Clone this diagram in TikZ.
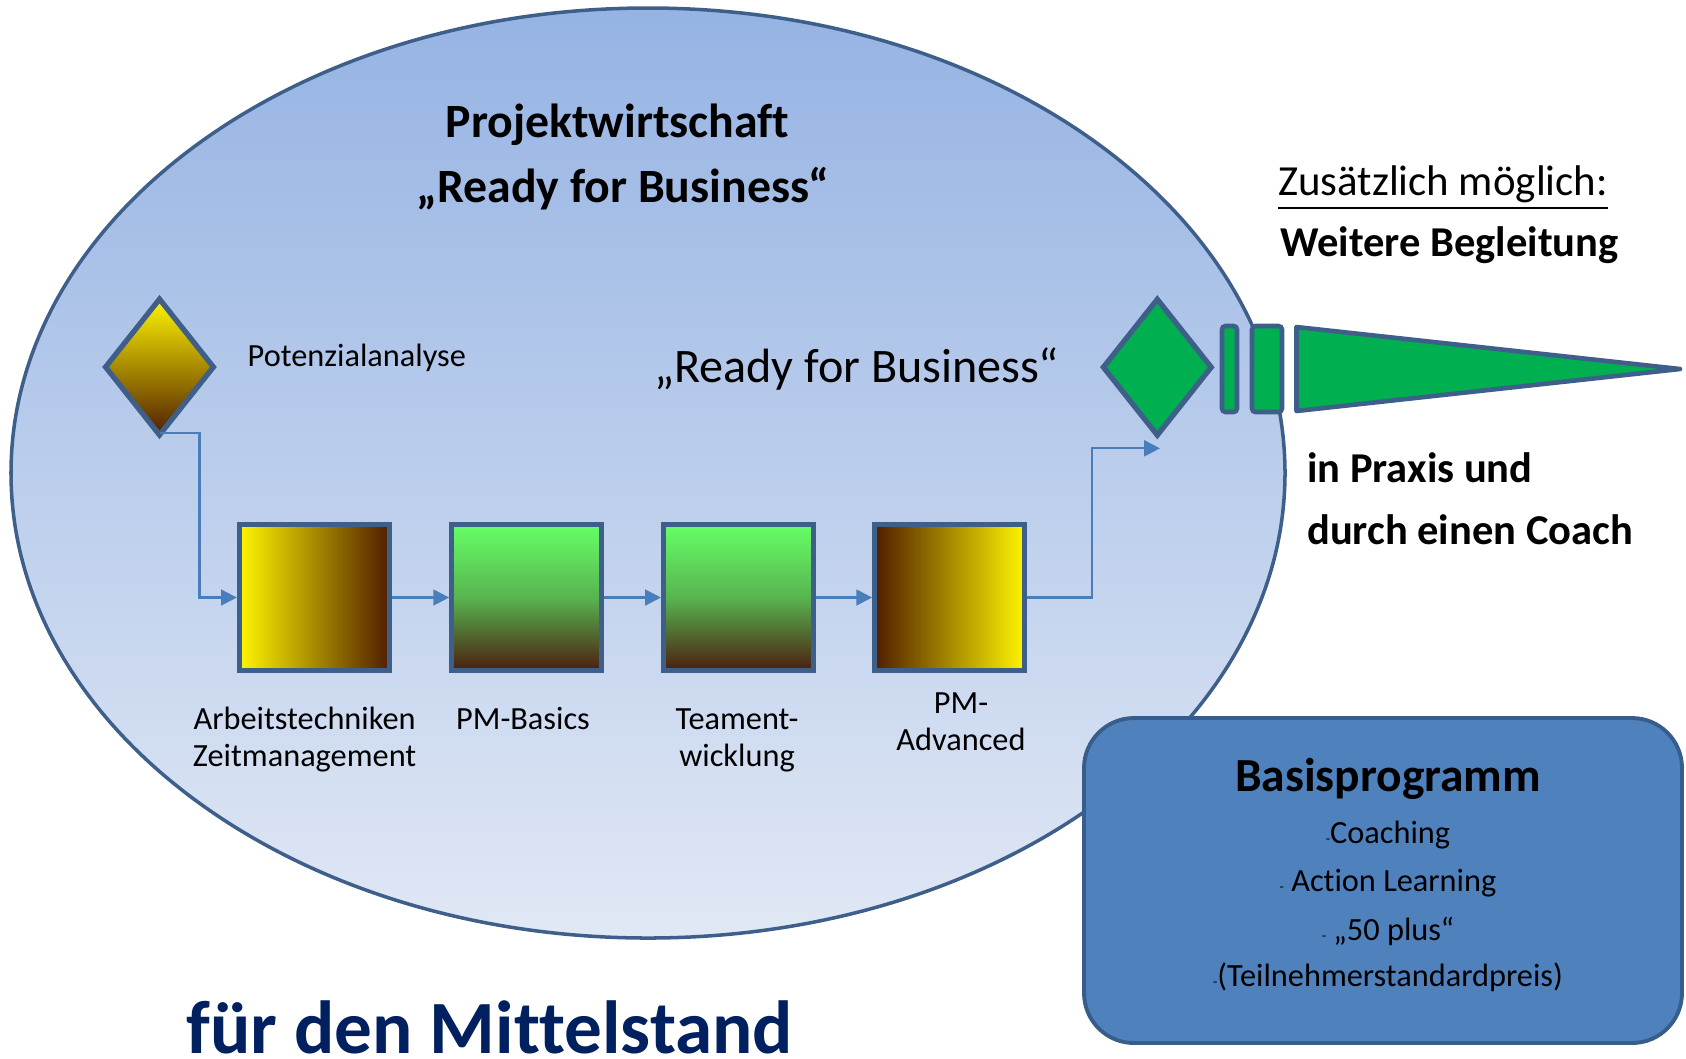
\documentclass[tikz,border=0pt]{standalone}
\usepackage{fontspec}
\setmainfont{Carlito}[Ligatures={TeX,NoCommon}]
\usetikzlibrary{shapes.geometric,arrows.meta}

\definecolor{rand}{RGB}{61,95,138}
\definecolor{pfeilblau}{RGB}{74,126,187}
\definecolor{ellipseoben}{RGB}{149,179,227}
\definecolor{ellipseunten}{RGB}{225,232,245}
\definecolor{gelb}{RGB}{255,245,0}
\definecolor{braun}{RGB}{80,30,0}
\definecolor{hellgruen}{RGB}{102,255,102}
\definecolor{mittelgruen}{RGB}{88,180,80}
\definecolor{gruenbraun}{RGB}{75,30,15}
\definecolor{vollgruen}{RGB}{0,176,80}
\definecolor{basisblau}{RGB}{79,129,189}
\definecolor{basisrand}{RGB}{56,93,138}
\definecolor{mittelstand}{RGB}{0,32,96}

\begin{document}
\begin{tikzpicture}[
    baustein/.style={draw=rand, line width=1.5pt, minimum width=1.50cm, minimum height=1.46cm, inner sep=0pt},
    raute/.style={diamond, draw=rand, line width=1.5pt, minimum width=1.10cm, minimum height=1.38cm, inner sep=0pt},
    gruenform/.style={draw=rand, fill=vollgruen, line width=1.3pt},
    pfeil/.style={draw=pfeilblau, line width=0.6pt, -{Triangle[length=4.5pt,width=4.5pt]}},
    normal/.style={font=\fontsize{9.2}{10.7}\selectfont, inner sep=0pt},
    gross/.style={font=\fontsize{13.6}{16}\selectfont\bfseries, inner sep=0pt},
    seite/.style={font=\fontsize{12.1}{14}\selectfont\bfseries, anchor=base west, inner sep=0pt}
  ]
                    \useasboundingbox (0,0) rectangle (16.86,-10.58);

                    % Drawing ellipse Projektwirtschaft
                    \shade [top color=ellipseoben, bottom color=ellipseunten, draw=rand, line width=1pt] (6.48,-4.73) ellipse [x radius=6.37, y radius=4.65];%

                    % Marking title
                    \node [gross, anchor=base] (titel1) at (6.175,-1.37) {Projektwirtschaft};%
                    \node [gross, anchor=base] (titel2) at (6.230,-2.02) {„Ready for Business“};%

                    % Marking point Potenzialanalyse
                    \node [raute, shade, top color=gelb, bottom color=braun] (pot) at (1.595,-3.670) {};%
                    \node [normal, anchor=base west] (potlabel) at (2.470,-3.667) {Potenzialanalyse};%

                    % Marking point Ready for Business
                    \node [font=\fontsize{13.7}{16}\selectfont, anchor=base, inner sep=0pt] (ready) at (8.565,-3.820) {„Ready for Business“};%
                    \node [raute, fill=vollgruen] (ziel) at (11.573,-3.672) {};%
                    \coordinate (zielpunkt) at (11.600,-4.483);%

                    % Drawing bars and cone
                    \draw [gruenform, rounded corners=1pt] (12.220,-3.260) rectangle (12.370,-4.120);%
                    \draw [gruenform, rounded corners=1pt] (12.520,-3.260) rectangle (12.820,-4.120);%
                    \draw [gruenform, line join=round] (12.965,-3.270) -- (16.800,-3.690) -- (12.965,-4.110) -- cycle;%

                    % Marking the four modules
                    \node [baustein, shade, left color=gelb, right color=braun] (sq1) at (3.145,-5.975) {};%
                    \node [baustein, shade, top color=hellgruen, bottom color=gruenbraun, middle color=mittelgruen] (sq2) at (5.268,-5.975) {};%
                    \node [baustein, shade, top color=hellgruen, bottom color=gruenbraun, middle color=mittelgruen] (sq3) at (7.386,-5.975) {};%
                    \node [baustein, shade, left color=braun, right color=gelb] (sq4) at (9.498,-5.975) {};%

                    % Marking module labels (base = last line)
                    \node [normal, align=center, anchor=base] (lab1) at (3.046,-7.667) {Arbeitstechniken\\Zeitmanagement};%
                    \node [normal, align=center, anchor=base] (lab2) at (5.230,-7.290) {PM-Basics};%
                    \node [normal, align=center, anchor=base] (lab3) at (7.370,-7.667) {Teament-\\wicklung};%
                    \node [normal, align=center, anchor=base] (lab4) at (9.610,-7.507) {PM-\\Advanced};%

                    % Drawing connectors
                    \draw [pfeil] ([yshift=0.06cm]pot.south) -- ++(0.40,0) |- (sq1.west);%
                    \draw [pfeil] (sq1.east) -- (sq2.west);%
                    \draw [pfeil] (sq2.east) -- (sq3.west);%
                    \draw [pfeil] (sq3.east) -- (sq4.west);%
                    \draw [pfeil] (sq4.east) -- ++(0.645,0) |- (zielpunkt);%

                    % Marking right hand texts
                    \node [font=\fontsize{12.2}{14}\selectfont, anchor=base west, inner sep=0pt] (zusatz) at (12.775,-1.957) {\underline{Zusätzlich möglich:}};%
                    \node [seite] (weitere) at (12.795,-2.560) {Weitere Begleitung};%
                    \node [seite] (praxis) at (13.065,-4.828) {in Praxis und};%
                    \node [seite] (coach) at (13.065,-5.440) {durch einen Coach};%

                    % Drawing box Basisprogramm
                    \node [draw=basisrand, fill=basisblau, line width=1.1pt, rounded corners=0.5cm, minimum width=5.98cm, minimum height=3.25cm] (basis) at (13.830,-8.805) {};%
                    \node [font=\fontsize{13.5}{16}\selectfont\bfseries, anchor=base, inner sep=0pt] (basistitel) at (13.880,-7.917) {Basisprogramm};%
                    \node [normal, anchor=base] (punkt1) at (13.880,-8.433) {{\fontsize{4}{4}\selectfont -}Coaching};%
                    \node [normal, anchor=base] (punkt2) at (13.880,-8.917) {{\fontsize{4}{4}\selectfont -} Action Learning};%
                    \node [normal, anchor=base] (punkt3) at (13.880,-9.400) {{\fontsize{4}{4}\selectfont -} „50 plus“};%
                    \node [normal, anchor=base] (punkt4) at (13.880,-9.867) {{\fontsize{4}{4}\selectfont -}(Teilnehmerstandardpreis)};%

                    % Marking point Mittelstand
                    \node [font=\fontsize{21.4}{25}\selectfont\bfseries, text=mittelstand, anchor=base west, inner sep=0pt, text depth=0pt] (mittel) at (1.857,-10.530) {für den Mittelstand};%
\end{tikzpicture}
\end{document}
